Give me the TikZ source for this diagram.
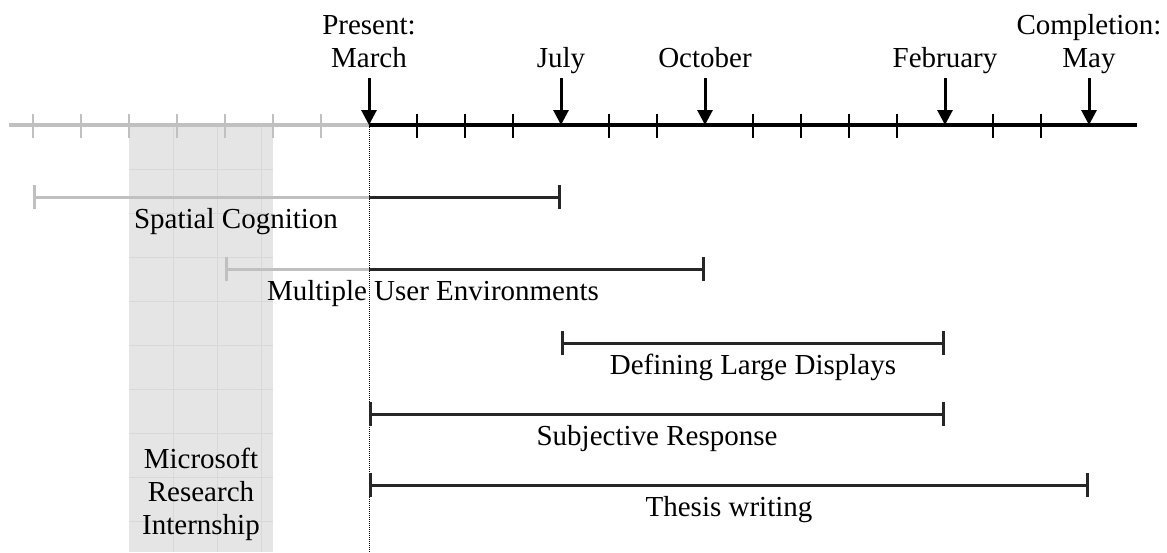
\documentclass[tikz,border=0pt]{standalone}
\usepackage{fontspec}
\setmainfont{Liberation Serif}
\usetikzlibrary{arrows.meta}
\usetikzlibrary{positioning}
\definecolor{pastgray}{RGB}{192,192,192}
\definecolor{shadegray}{RGB}{229,229,229}
\definecolor{gridgray}{RGB}{216,216,216}

\begin{document}
\begin{tikzpicture}
[x=1pt,y=-1pt,%
  every node/.style={font=\fontsize{29}{33}\selectfont,inner sep=0pt},%
  axisLine/.style={-,line width=4pt},%
  pastAxis/.style={axisLine,color=pastgray},%
  tickMark/.style={-,line width=1.4pt},%
  pastTick/.style={tickMark,color=pastgray},%
  monthArrow/.style={-{Triangle[width=15pt,length=15pt]},line width=3pt},%
  barLine/.style={line width=3pt,color=black!85},%
  pastBar/.style={line width=3pt,color=pastgray}]
%% page
\useasboundingbox[fill=white] (0,0) rectangle (1167,552);
%% internship shading
\fill[shadegray] (129,125) rectangle (273,552);
\foreach \gx in {173,217,261}
  \draw[gridgray,line width=0.7pt] (\gx,125) -- (\gx,552);
\foreach \gy in {169,213,...,521}
  \draw[gridgray,line width=0.7pt] (129,\gy) -- (273,\gy);
\node[align=center] (intern) at (201,494) {Microsoft\\Research\\Internship};
%% present marker
\coordinate (now) at (369,125);
\coordinate (nowBottom) at (369,552);
\draw[densely dotted,line width=1pt] (now) -- (nowBottom);
%% time axis
\coordinate (axisStart) at (9,125);
\coordinate (axisEnd) at (1137,125);
\draw[pastAxis] (axisStart) -- (now);
\draw[axisLine] (now) -- (axisEnd);
\foreach \k in {0,...,6}
  \draw[pastTick] (33+48*\k,114) -- (33+48*\k,138);
\foreach \k in {8,9,10,12,13,15,16,17,18,20,21}
  \draw[tickMark] (33+48*\k,114) -- (33+48*\k,138);
%% month arrows and their labels
\foreach \k/\name/\month in {7/march/March, 11/july/July,
  14/october/October, 19/february/February, 22/may/May}
{
  \coordinate (top-\name) at (33+48*\k,78);
  \coordinate (tip-\name) at (33+48*\k,125);
  \draw[monthArrow] (top-\name) -- (tip-\name);
  \node[anchor=base] (lab-\name) at (33+48*\k,67) {\month};
}
\node[anchor=base] (present) at ([yshift=33pt]lab-march.base) {Present:};
\node[anchor=base] (completion) at ([yshift=33pt]lab-may.base) {Completion:};
%% projects that started before March
\foreach \name/\past/\to/\y/\lx/\text in {
  spatial/33/561/197/236/Spatial Cognition,
  multiple/225/705/269/433/Multiple User Environments}
{
  \coordinate (\name-past) at (\past,\y);
  \coordinate (\name-now) at (369,\y);
  \coordinate (\name-end) at (\to,\y);
  \draw[pastBar,{Bar[width=24pt,line width=2.8pt]}-] (\name-past) -- (\name-now);
  \draw[barLine,-{Bar[width=24pt,line width=2.8pt]}] (\name-now) -- (\name-end);
  \node[anchor=base] (lab-\name) at (\lx,\y+31) {\text};
}
%% projects from March on
\foreach \name/\from/\to/\y/\text in {
  defining/561/945/343/Defining Large Displays,
  subjective/369/945/414/Subjective Response,
  thesis/369/1089/485/Thesis writing}
{
  \coordinate (\name-start) at (\from,\y);
  \coordinate (\name-end) at (\to,\y);
  \draw[barLine,{Bar[width=24pt,line width=2.8pt]}-{Bar[width=24pt,line width=2.8pt]}] (\name-start) -- (\name-end);
  \node[anchor=base] (lab-\name) at ({(\from+\to)/2},\y+31) {\text};
}
\end{tikzpicture}
\end{document}
